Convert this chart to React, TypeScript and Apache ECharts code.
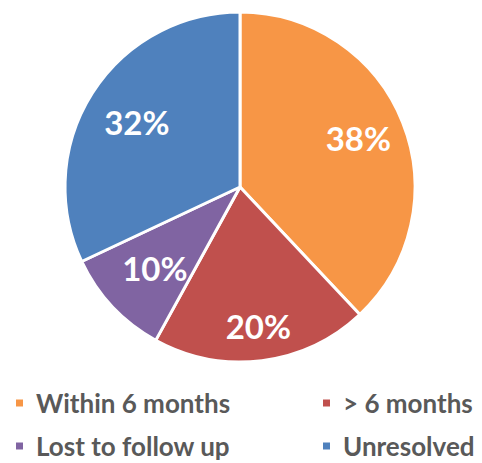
import React, { useEffect, useRef } from "react";
import * as echarts from "echarts";

const categories = ["Within 6 months", "> 6 months", "Lost to follow up", "Unresolved"];
const values = [38, 20, 10, 32];
const colors = ["#F79646", "#C0504D", "#8064A2", "#4F81BD"];
const labelOffsets = [[-3, -1], [2, 10], [10, -8], [7, 5]];

export default function App() {
  const ref = useRef<HTMLDivElement>(null);
  useEffect(() => {
    document.body.style.margin = "0";
    const chart = echarts.init(ref.current!, null, { renderer: "svg" });
    const data = categories.map((name, i) => ({ name, value: values[i], itemStyle: { color: colors[i] } }));
    const legendPos = [
      { left: 14, top: 390 },
      { left: 321, top: 390 },
      { left: 14, top: 433 },
      { left: 321, top: 433 },
    ];
    chart.setOption({
      animation: false,
      legend: categories.map((name, i) => ({
        data: [name],
        left: legendPos[i].left,
        top: legendPos[i].top,
        icon: "rect",
        itemWidth: 9,
        itemHeight: 9,
        padding: 0,
        selectedMode: false,
        textStyle: {
          fontFamily: "Lato",
          fontWeight: "bold",
          fontSize: 26,
          color: "#595959",
          padding: [0, 0, 0, 7],
        },
      })),
      series: [
        {
          type: "pie",
          center: [240, 187],
          radius: [0, 175],
          startAngle: 90,
          clockwise: true,
          data,
          label: { show: false },
          labelLine: { show: false },
          itemStyle: { borderColor: "#ffffff", borderWidth: 3 },
          emphasis: { disabled: true },
        },
        {
          type: "pie",
          center: [240, 187],
          radius: [80, 175],
          startAngle: 90,
          clockwise: true,
          silent: true,
          data: categories.map((name, i) => ({
            name,
            value: values[i],
            label: { offset: labelOffsets[i] },
          })),
          itemStyle: { color: "transparent" },
          label: {
            show: true,
            position: "inside",
            formatter: "{d}%",
            color: "#ffffff",
            fontFamily: "Lato",
            fontWeight: "bold",
            fontSize: 33,
          },
          labelLine: { show: false },
          emphasis: { disabled: true },
        },
      ],
    });
    return () => chart.dispose();
  }, []);
  return <div ref={ref} style={{ width: 482, height: 463 }} />;
}
